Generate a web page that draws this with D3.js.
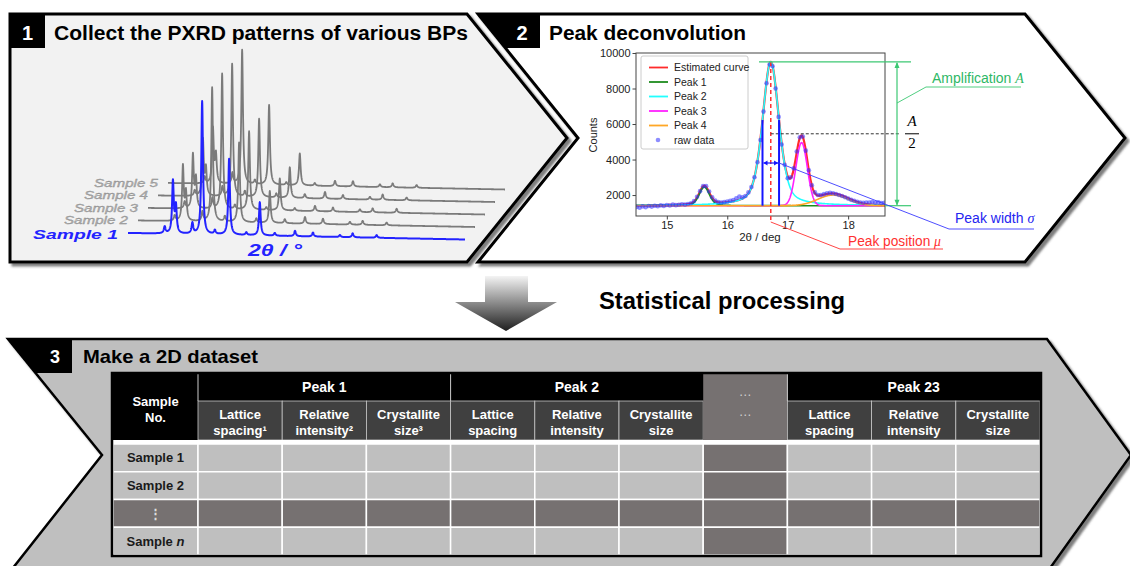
<!DOCTYPE html>
<html>
<head>
<meta charset="utf-8">
<script src="https://cdn.jsdelivr.net/npm/d3@7"></script>
<style>
    body { margin: 0; background: #fff; }
    svg { display: block; font-family: "Liberation Sans", Arial, sans-serif; }
</style>
</head>
<body>
<svg width="1130" height="566"></svg>
<script>
// ---------- data ----------
// Panel 1: stacked PXRD patterns, peak angles (2θ) and relative intensities per sample
var xrdSamples = ["Sample 1", "Sample 2", "Sample 3", "Sample 4", "Sample 5"];
var xrdPeakAngles = [9.9, 11.0, 11.4, 13.6, 14.9, 16.6, 18.5, 20.8, 22.6, 24.6, 27.3, 29.7, 33.3, 35.0, 38.2];
var xrdSample1 = [5, 39, 20, 8, 100, 3, 57, 2, 25, 2, 4, 3, 1.5, 3, 2];
var xrdSample2 = [4, 41, 21, 7, 101, 4, 60, 3, 24, 3, 5, 4, 2, 3, 2];
var xrdSample3 = [5, 40, 22, 8, 102, 3, 59, 2, 24, 2, 4, 3, 2, 3, 3];
var xrdSample4 = [4, 42, 20, 7, 100, 4, 59, 3, 23, 3, 5, 3, 2, 4, 2];
var xrdSample5 = [5, 41, 21, 8, 101, 3, 60, 2, 24, 2, 4, 4, 2, 3, 2];

// Panel 2: peak deconvolution (fitted parameters + raw counts)
var fitBaseline = 1400;
var fitPeakNames = ["Peak 1", "Peak 2", "Peak 3", "Peak 4"];
var fitCenters = [15.62, 16.72, 17.23, 17.75];
var fitAmplitudes = [1050, 8100, 3550, 600];
var fitSigmas = [0.085, 0.137, 0.095, 0.25];
var fitLorentzFractions = [0.3, 0.45, 0, 0];
var rawStart = 14.5, rawStep = 0.05;
var rawCounts = [1330, 1290, 1360, 1310, 1380, 1350, 1400, 1370, 1420, 1390,
    1440, 1410, 1460, 1430, 1450, 1480, 1460, 1500, 1540, 1660,
    1900, 2220, 2500, 2500, 2200, 1880, 1690, 1610, 1580, 1600,
    1640, 1680, 1720, 1820, 1920, 1870, 1950, 2150, 2450, 3000,
    3850, 5100, 6700, 8300, 9350, 9250, 8000, 6400, 4850, 3700,
    2950, 3000, 3500, 4450, 5250, 5300, 4500, 3400, 2550, 2150,
    2000, 2000, 2050, 2100, 2120, 2100, 2060, 2000, 1950, 1880,
    1800, 1730, 1680, 1620, 1580, 1560, 1580, 1580, 1610, 1570,
    1590, 1550, 1560];
var countTicks = [2000, 4000, 6000, 8000, 10000];
var angleTicks = [15, 16, 17, 18];

// Panel 3: dataset table
var tableGroups = ["Peak 1", "Peak 2", "…", "Peak 23"];
var tableFeatures = [["Lattice", "spacing"], ["Relative", "intensity"], ["Crystallite", "size"]];
var featureNotes = ["¹", "²", "³"];
var tableRows = ["Sample 1", "Sample 2", "⋮", "Sample n"];

// ---------- setup ----------
var svg = d3.select("svg");
var defs = svg.append("defs");

var shadow = defs.append("filter").attr("id", "shadow")
    .attr("x", "-5%").attr("y", "-5%").attr("width", "115%").attr("height", "120%");
shadow.append("feDropShadow").attr("dx", 3).attr("dy", 3).attr("stdDeviation", 1.2)
    .attr("flood-color", "#444").attr("flood-opacity", 0.7);

var grad = defs.append("linearGradient").attr("id", "arrowGrad")
    .attr("x1", 0).attr("y1", 0).attr("x2", 0).attr("y2", 1);
grad.append("stop").attr("offset", "0%").attr("stop-color", "#f4f4f4");
grad.append("stop").attr("offset", "100%").attr("stop-color", "#1e1e1e");

function poly(pts) {
    return "M" + pts.map(function (p) { return p.join(","); }).join("L") + "Z";
}

// panel outlines
var panel1 = [[10, 14], [467, 14], [567, 138], [467, 262], [10, 262]];
var panel2 = [[478, 14], [1025, 14], [1125, 138], [1025, 262], [478, 262], [578, 138]];
var panel3 = [[8, 339], [1047, 339], [1131, 455], [1043, 578], [5, 578], [102, 455]];

svg.append("path").attr("d", poly(panel1)).attr("fill", "#f2f2f2")
    .attr("stroke", "#000").attr("stroke-width", 3).attr("filter", "url(#shadow)");
svg.append("path").attr("d", poly(panel2)).attr("fill", "#fff")
    .attr("stroke", "#000").attr("stroke-width", 3).attr("filter", "url(#shadow)");
svg.append("path").attr("d", poly(panel3)).attr("fill", "#bfbfbf")
    .attr("stroke", "#000").attr("stroke-width", 2.5).attr("filter", "url(#shadow)");

// tabs
svg.append("path").attr("d", poly([[10, 14], [45, 14], [45, 48], [10, 48]])).attr("fill", "#000");
svg.append("path").attr("d", poly([[478, 14], [540, 14], [540, 48], [505.4, 48]])).attr("fill", "#000");
svg.append("path").attr("d", poly([[8, 339], [72, 339], [72, 373], [35.5, 373]])).attr("fill", "#000");

svg.append("text").attr("x", 27.5).attr("y", 40).attr("text-anchor", "middle")
    .attr("fill", "#fff").attr("font-weight", "bold").attr("font-size", 20).text("1");
svg.append("text").attr("x", 54).attr("y", 40).attr("textLength", 414).attr("lengthAdjust", "spacingAndGlyphs")
    .attr("font-weight", "bold").attr("font-size", 20).text("Collect the PXRD patterns of various BPs");
svg.append("text").attr("x", 522).attr("y", 40).attr("text-anchor", "middle")
    .attr("fill", "#fff").attr("font-weight", "bold").attr("font-size", 20).text("2");
svg.append("text").attr("x", 549).attr("y", 40).attr("textLength", 197).attr("lengthAdjust", "spacingAndGlyphs")
    .attr("font-weight", "bold").attr("font-size", 20).text("Peak deconvolution");
svg.append("text").attr("x", 55).attr("y", 363).attr("text-anchor", "middle").attr("textLength", 10)
    .attr("lengthAdjust", "spacingAndGlyphs")
    .attr("fill", "#fff").attr("font-weight", "bold").attr("font-size", 18).text("3");
svg.append("text").attr("x", 83).attr("y", 363).attr("textLength", 175).attr("lengthAdjust", "spacingAndGlyphs")
    .attr("font-weight", "bold").attr("font-size", 19).text("Make a 2D dataset");

// ---------- panel 1: stacked patterns ----------
var xrdData = [xrdSample1, xrdSample2, xrdSample3, xrdSample4, xrdSample5];
var xs = d3.scaleLinear().domain([5, 50]).range([0, 337]);
var ys = d3.scaleLinear().domain([0, 100]).range([0, -133]);
var angles = d3.range(5, 50.001, 0.02);

function xrdProfile(intens, a) {
    var s = 0;
    for (var k = 0; k < xrdPeakAngles.length; k++) {
        var d = (a - xrdPeakAngles[k]) / 0.13;
        s += intens[k] / (1 + d * d);
    }
    return s;
}

var g1 = svg.append("g");
for (var i = xrdSamples.length - 1; i >= 0; i--) {
    var ox = 128 + 10 * i, oy = 233 - 12.5 * i;
    var col = i === 0 ? "#2323ff" : "#7b7b7b";
    var line1 = d3.line()
        .x(function (a) { return ox + xs(a); })
        .y(function (a) { return oy + 6.5 * (xs(a) / 337) + ys(xrdProfile(xrdData[i], a)); });
    g1.append("path").datum(angles).attr("d", line1)
        .attr("fill", "none").attr("stroke", col).attr("stroke-width", i === 0 ? 2 : 1.8)
        .attr("stroke-linejoin", "round");
    var lab = g1.append("text").attr("x", ox - 10).attr("text-anchor", "end")
        .attr("font-style", "italic").text(xrdSamples[i]);
    if (i === 0) {
        lab.attr("y", oy + 6).attr("fill", "#2323ff").attr("font-weight", "bold").attr("font-size", 13.5)
            .attr("textLength", 85).attr("lengthAdjust", "spacingAndGlyphs");
    } else {
        lab.attr("y", oy + 3.5).attr("fill", "#b0b0b0").attr("stroke", "#8a8a8a").attr("stroke-width", 0.3)
            .attr("font-size", 11).attr("textLength", 64).attr("lengthAdjust", "spacingAndGlyphs");
    }
}
g1.append("text").attr("x", 248).attr("y", 256).attr("textLength", 54).attr("lengthAdjust", "spacingAndGlyphs")
    .attr("fill", "#2323ff").attr("font-weight", "bold").attr("font-style", "italic").attr("font-size", 16)
    .text("2θ / °");

// ---------- panel 2: deconvolution chart ----------
var x2 = d3.scaleLinear().domain([14.49, 18.61]).range([636, 885]);
var y2 = d3.scaleLinear().domain([820, 10000]).range([216, 53]);

function peakValue(i, x) {
    var d = x - fitCenters[i], s = fitSigmas[i];
    var gs = Math.exp(-d * d / (2 * s * s));
    var gam = s * 1.1774;
    var l = 1 / (1 + (d / gam) * (d / gam));
    return fitAmplitudes[i] * ((1 - fitLorentzFractions[i]) * gs + fitLorentzFractions[i] * l);
}
function fitTotal(x) {
    return fitBaseline + d3.sum(fitCenters, function (c, i) { return peakValue(i, x); });
}

defs.append("clipPath").attr("id", "plotClip").append("rect")
    .attr("x", 636).attr("y", 53).attr("width", 249).attr("height", 163);

var g2 = svg.append("g");
var grid = d3.range(14.49, 18.615, 0.005);
var line2 = d3.line().x(function (d) { return x2(d[0]); }).y(function (d) { return y2(d[1]); });
var plot = g2.append("g").attr("clip-path", "url(#plotClip)");

var curveColors = ["#ff2b2b", "#1e8c1e", "#22ffff", "#ff22ff", "#ffa726"];
plot.append("path").datum(grid.map(function (x) { return [x, fitTotal(x)]; }))
    .attr("d", line2).attr("fill", "none").attr("stroke", curveColors[0]).attr("stroke-width", 2.2);
fitPeakNames.forEach(function (n, i) {
    plot.append("path").datum(grid.map(function (x) { return [x, fitBaseline + peakValue(i, x)]; }))
        .attr("d", line2).attr("fill", "none").attr("stroke", curveColors[i + 1]).attr("stroke-width", 1.6);
});
plot.selectAll("circle.raw").data(rawCounts).enter().append("circle")
    .attr("class", "raw")
    .attr("cx", function (d, i) { return x2(rawStart + i * rawStep); })
    .attr("cy", function (d) { return y2(d); })
    .attr("r", 2.3).attr("fill", "#3030ff").attr("fill-opacity", 0.55);

g2.append("rect").attr("x", 636).attr("y", 53).attr("width", 249).attr("height", 163)
    .attr("fill", "none").attr("stroke", "#444").attr("stroke-width", 1);

var xAxis = g2.append("g").attr("transform", "translate(0,216)")
    .call(d3.axisBottom(x2).tickValues(angleTicks).tickSize(3.5).tickPadding(2).tickFormat(d3.format("d")));
var yAxis = g2.append("g").attr("transform", "translate(636,0)")
    .call(d3.axisLeft(y2).tickValues(countTicks).tickSize(3.5).tickPadding(2).tickFormat(d3.format("d")));
[xAxis, yAxis].forEach(function (ax) {
    ax.select(".domain").remove();
    ax.selectAll("text").attr("font-family", "Liberation Sans, Arial, sans-serif")
        .attr("font-size", 11).attr("fill", "#222");
    ax.selectAll("line").attr("stroke", "#444");
});
g2.append("text").attr("x", 760).attr("y", 241).attr("text-anchor", "middle")
    .attr("font-size", 11.5).attr("fill", "#222").text("2θ / deg");
g2.append("text").attr("transform", "translate(597,135) rotate(-90)").attr("text-anchor", "middle")
    .attr("font-size", 11).attr("fill", "#222").text("Counts");

// legend
var legendLabels = ["Estimated curve"].concat(fitPeakNames).concat(["raw data"]);
var leg = g2.append("g");
leg.append("rect").attr("x", 641).attr("y", 56).attr("width", 107).attr("height", 93).attr("rx", 2)
    .attr("fill", "#fff").attr("fill-opacity", 0.9).attr("stroke", "#ccc");
legendLabels.forEach(function (t, i) {
    var ly = 67.5 + i * 14.5;
    if (i < 5) {
        leg.append("line").attr("x1", 649).attr("x2", 668).attr("y1", ly).attr("y2", ly)
            .attr("stroke", curveColors[i]).attr("stroke-width", 1.8);
    } else {
        leg.append("circle").attr("cx", 658).attr("cy", ly).attr("r", 2.3)
            .attr("fill", "#3030ff").attr("fill-opacity", 0.55);
    }
    leg.append("text").attr("x", 674).attr("y", ly + 3.8).attr("font-size", 10.5).attr("fill", "#222").text(t);
});

// annotations
var mu2 = fitCenters[1], s2 = fitSigmas[1];
var topY = y2(fitBaseline + fitAmplitudes[1]);
var baseY = y2(fitBaseline);
var halfY = y2(fitBaseline + fitAmplitudes[1] / 2);
var red = "#ff3030", green = "#3cc873", blue = "#3a3aff";

g2.append("line").attr("x1", x2(mu2)).attr("x2", x2(mu2)).attr("y1", topY).attr("y2", 222)
    .attr("stroke", red).attr("stroke-width", 1.5).attr("stroke-dasharray", "4,3");
g2.append("path").attr("d", "M" + x2(mu2) + ",222L840,249L943,249")
    .attr("fill", "none").attr("stroke", red).attr("stroke-width", 0.9);
g2.append("text").attr("x", 848).attr("y", 246).attr("fill", red).attr("font-size", 14)
    .attr("textLength", 93).attr("lengthAdjust", "spacingAndGlyphs")
    .text("Peak position ").append("tspan").attr("font-family", "Liberation Serif, serif")
    .attr("font-style", "italic").text("μ");

g2.append("line").attr("x1", x2(mu2)).attr("x2", 900).attr("y1", halfY).attr("y2", halfY)
    .attr("stroke", "#333").attr("stroke-width", 1).attr("stroke-dasharray", "3,2");
var frac = g2.append("g").attr("font-family", "Liberation Serif, serif").attr("font-size", 15);
frac.append("text").attr("x", 912).attr("y", 126).attr("text-anchor", "middle").attr("font-style", "italic").text("A");
frac.append("line").attr("x1", 905).attr("x2", 919).attr("y1", halfY).attr("y2", halfY).attr("stroke", "#000");
frac.append("text").attr("x", 912).attr("y", 148).attr("text-anchor", "middle").text("2");

g2.append("line").attr("x1", 759).attr("x2", 911).attr("y1", topY).attr("y2", topY).attr("stroke", green).attr("stroke-width", 1.2);
g2.append("line").attr("x1", 885).attr("x2", 911).attr("y1", baseY).attr("y2", baseY).attr("stroke", green).attr("stroke-width", 1.2);
g2.append("line").attr("x1", 897).attr("x2", 897).attr("y1", topY + 1).attr("y2", baseY - 1).attr("stroke", green).attr("stroke-width", 1.2);
g2.append("path").attr("d", "M897," + topY + "l-2.5,6h5z").attr("fill", green);
g2.append("path").attr("d", "M897," + baseY + "l-2.5,-6h5z").attr("fill", green);
g2.append("path").attr("d", "M897,103L926,87L1021,87").attr("fill", "none").attr("stroke", green).attr("stroke-width", 0.9);
var ampText = g2.append("text").attr("x", 932).attr("y", 83).attr("fill", "#2eb866").attr("font-size", 14);
ampText.append("tspan").text("Amplification ");
ampText.append("tspan").attr("font-family", "Liberation Serif, serif").attr("font-style", "italic").text("A");

var xl = x2(mu2 - s2), xr = x2(mu2 + s2);
var yl = y2(fitTotal(mu2 - s2)), yr = y2(fitTotal(mu2 + s2));
g2.append("line").attr("x1", xl).attr("x2", xl).attr("y1", yl).attr("y2", baseY).attr("stroke", "#1414ff").attr("stroke-width", 2);
g2.append("line").attr("x1", xr).attr("x2", xr).attr("y1", yr).attr("y2", baseY).attr("stroke", "#1414ff").attr("stroke-width", 2);
g2.append("line").attr("x1", xl + 1).attr("x2", xr - 1).attr("y1", 163).attr("y2", 163).attr("stroke", "#1414ff").attr("stroke-width", 1.2);
g2.append("path").attr("d", "M" + (xl + 1) + ",163l4,-2.5v5z").attr("fill", "#1414ff");
g2.append("path").attr("d", "M" + (xr - 1) + ",163l-4,-2.5v5z").attr("fill", "#1414ff");
g2.append("path").attr("d", "M" + xr + ",163L949,229L1034,229").attr("fill", "none").attr("stroke", blue).attr("stroke-width", 0.9);
var widText = g2.append("text").attr("x", 955).attr("y", 223).attr("fill", "#2525f0").attr("font-size", 14);
widText.append("tspan").text("Peak width ");
widText.append("tspan").attr("font-family", "Liberation Serif, serif").attr("font-style", "italic").text("σ");

// ---------- arrow ----------
svg.append("path").attr("d", poly([[485, 276], [528, 276], [528, 302], [557, 302], [506, 331], [455, 302], [485, 302]]))
    .attr("fill", "url(#arrowGrad)");
svg.append("text").attr("x", 599).attr("y", 309).attr("textLength", 246).attr("lengthAdjust", "spacingAndGlyphs")
    .attr("font-weight", "bold").attr("font-size", 24).text("Statistical processing");

// ---------- panel 3: table ----------
var cols = [];
tableGroups.forEach(function (g, gi) {
    if (g === "…") {
        cols.push({ group: gi, gap: true });
    } else {
        tableFeatures.forEach(function (f, fi) { cols.push({ group: gi, feature: fi, gap: false }); });
    }
});
var colX = d3.scaleBand().domain(d3.range(cols.length)).range([198, 1040]);
var rowY = d3.scaleBand().domain(d3.range(tableRows.length)).range([444, 555]);
var cw = colX.bandwidth(), rh = rowY.bandwidth();
var darkCell = "#767171", lightCell = "#bfbfbf";

var g3 = svg.append("g");
g3.append("rect").attr("x", 113).attr("y", 374).attr("width", 927).attr("height", 181).attr("fill", "#000");

// data cells
tableRows.forEach(function (r, ri) {
    var dotRow = r === "⋮";
    g3.append("rect").attr("x", 113).attr("y", rowY(ri)).attr("width", 85).attr("height", rh)
        .attr("fill", dotRow ? darkCell : lightCell).attr("stroke", "#fff").attr("stroke-width", 1.5);
    cols.forEach(function (c, ci) {
        g3.append("rect").attr("x", colX(ci)).attr("y", rowY(ri)).attr("width", cw).attr("height", rh)
            .attr("fill", (dotRow || c.gap) ? darkCell : lightCell).attr("stroke", "#fff").attr("stroke-width", 1.5);
    });
    var t = g3.append("text").attr("x", 155.5).attr("y", rowY(ri) + rh / 2 + 4.5).attr("text-anchor", "middle")
        .attr("font-weight", "bold").attr("font-size", 13);
    if (dotRow) {
        t.attr("fill", "#ddd").text(r);
    } else if (r === "Sample n") {
        t.attr("fill", "#1a1a1a").text("Sample ");
        t.append("tspan").attr("font-style", "italic").text("n");
    } else {
        t.attr("fill", "#1a1a1a").text(r);
    }
});

// header
cols.forEach(function (c, ci) {
    if (c.gap) {
        g3.append("rect").attr("x", colX(ci)).attr("y", 374).attr("width", cw).attr("height", 66).attr("fill", darkCell);
        [396, 416].forEach(function (yy) {
            g3.append("text").attr("x", colX(ci) + cw / 2).attr("y", yy).attr("text-anchor", "middle")
                .attr("fill", "#d0d0d0").attr("font-size", 13).text("…");
        });
        return;
    }
    g3.append("rect").attr("x", colX(ci)).attr("y", 401).attr("width", cw).attr("height", 39)
        .attr("fill", "#404040").attr("stroke", "#c8c8c8").attr("stroke-width", 0.8);
    var f = tableFeatures[c.feature];
    var note = c.group === 0 ? featureNotes[c.feature] : "";
    g3.append("text").attr("x", colX(ci) + cw / 2).attr("y", 419).attr("text-anchor", "middle")
        .attr("fill", "#fff").attr("font-weight", "bold").attr("font-size", 13).text(f[0]);
    g3.append("text").attr("x", colX(ci) + cw / 2).attr("y", 435).attr("text-anchor", "middle")
        .attr("fill", "#fff").attr("font-weight", "bold").attr("font-size", 13).text(f[1] + note);
});
tableGroups.forEach(function (g, gi) {
    if (g === "…") return;
    var ids = cols.map(function (c, i) { return c.group === gi ? i : -1; }).filter(function (i) { return i >= 0; });
    var x0 = colX(ids[0]), x1 = colX(ids[ids.length - 1]) + cw;
    g3.append("line").attr("x1", x0).attr("x2", x0).attr("y1", 374).attr("y2", 401).attr("stroke", "#ccc").attr("stroke-width", 1);
    g3.append("text").attr("x", (x0 + x1) / 2).attr("y", 392).attr("text-anchor", "middle")
        .attr("fill", "#fff").attr("font-weight", "bold").attr("font-size", 14).text(g);
});
g3.append("text").attr("x", 155.5).attr("y", 406).attr("text-anchor", "middle")
    .attr("fill", "#fff").attr("font-weight", "bold").attr("font-size", 13).text("Sample");
g3.append("text").attr("x", 155.5).attr("y", 422).attr("text-anchor", "middle")
    .attr("fill", "#fff").attr("font-weight", "bold").attr("font-size", 13).text("No.");
g3.append("rect").attr("x", 113).attr("y", 440).attr("width", 927).attr("height", 4).attr("fill", "#fff");
g3.append("rect").attr("x", 112).attr("y", 373).attr("width", 929).attr("height", 183)
    .attr("fill", "none").attr("stroke", "#000").attr("stroke-width", 2.5);
</script>
</body>
</html>
